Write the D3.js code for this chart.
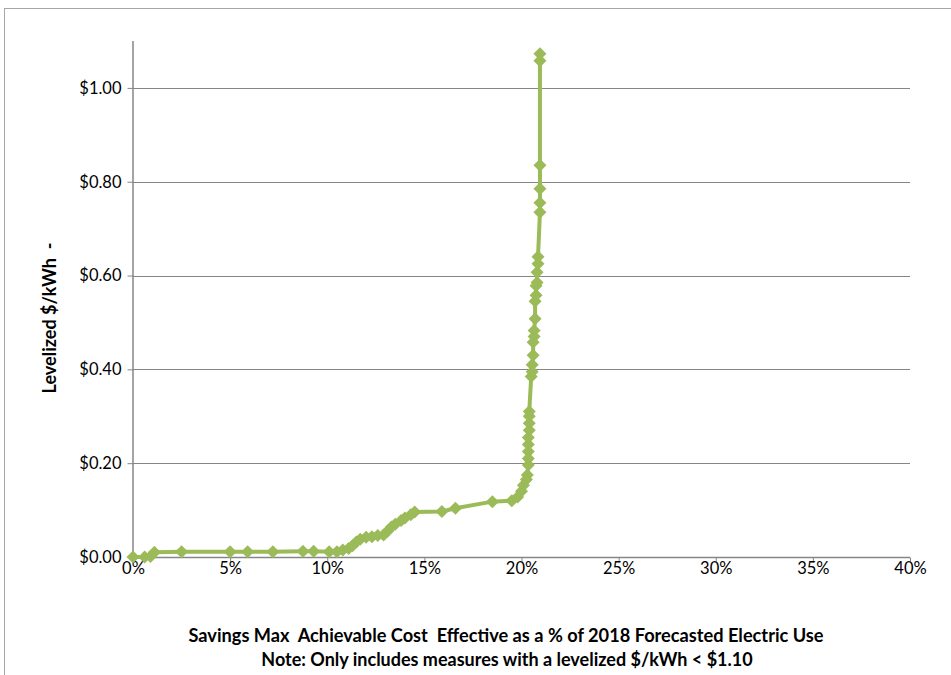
<!DOCTYPE html>
<html>
<head>
<meta charset="utf-8">
<script src="https://cdn.jsdelivr.net/npm/d3@7"></script>
<style>
  html, body { margin: 0; padding: 0; background: #ffffff; }
  svg { display: block; font-family: Lato, "Open Sans", "Liberation Sans", sans-serif; }
  text { white-space: pre; }
</style>
</head>
<body>
<svg id="chart" width="951" height="675"></svg>
<script>
// Savings (% of 2018 forecasted electric use)
const savingsPct = [0.0, 0.6, 0.9, 1.1, 2.5, 5.0, 5.9, 7.2, 8.75, 9.3, 10.1, 10.5, 10.8, 11.1, 11.3, 11.5, 11.7, 12.0, 12.3, 12.6, 12.9, 13.1, 13.3, 13.5, 13.8, 14.0, 14.3, 14.5, 15.9, 16.6, 18.5, 19.5, 19.8, 20.0, 20.1, 20.25, 20.3, 20.35, 20.35, 20.35, 20.35, 20.35, 20.4, 20.4, 20.4, 20.4, 20.5, 20.55, 20.55, 20.6, 20.6, 20.65, 20.65, 20.7, 20.7, 20.75, 20.75, 20.8, 20.8, 20.85, 20.85, 20.95, 20.95, 20.95, 20.95, 20.95, 20.95];
// Levelized $/kWh
const levelizedCost = [0.000, 0.000, 0.001, 0.010, 0.011, 0.011, 0.011, 0.011, 0.012, 0.012, 0.011, 0.011, 0.015, 0.018, 0.024, 0.032, 0.038, 0.042, 0.043, 0.046, 0.047, 0.055, 0.064, 0.070, 0.078, 0.083, 0.090, 0.096, 0.097, 0.104, 0.118, 0.120, 0.128, 0.140, 0.153, 0.165, 0.175, 0.196, 0.210, 0.225, 0.240, 0.255, 0.270, 0.285, 0.300, 0.310, 0.385, 0.395, 0.410, 0.430, 0.458, 0.470, 0.483, 0.508, 0.545, 0.558, 0.578, 0.585, 0.607, 0.625, 0.640, 0.735, 0.755, 0.785, 0.835, 1.058, 1.073];
const xTicks = [0, 5, 10, 15, 20, 25, 30, 35, 40];
const yTicks = [0, 0.2, 0.4, 0.6, 0.8, 1.0];
const xTitle = "Savings Max  Achievable Cost  Effective as a % of 2018 Forecasted Electric Use";
const xNote = "Note: Only includes measures with a levelized $/kWh < $1.10";
const yTitle = "Levelized $/kWh  -";

const svg = d3.select("#chart");
const mLeft = 133, mRight = 910, mTop = 41, mBottom = 557;
const color = "#9BBB59";
const axisColor = "#868686";

// outer chart border
svg.append("rect").attr("x", 4.5).attr("y", 8.5).attr("width", 960).attr("height", 700)
  .attr("fill", "none").attr("stroke", "#a6a6a6").attr("stroke-width", 1);

const x = d3.scaleLinear().domain([0, 40]).range([mLeft, mRight]);
const y = d3.scaleLinear().domain([0, 1.1]).range([mBottom, mTop]);

// gridlines
svg.append("g").selectAll("line").data(yTicks.filter(d => d > 0)).join("line")
  .attr("x1", mLeft).attr("x2", mRight)
  .attr("y1", d => Math.round(y(d)) + 0.5).attr("y2", d => Math.round(y(d)) + 0.5)
  .attr("stroke", axisColor).attr("stroke-width", 1);

// y axis
const yAxis = d3.axisLeft(y).tickValues(yTicks).tickSize(6).tickPadding(6)
  .tickFormat(d => "$" + d3.format(".2f")(d));
const gy = svg.append("g").attr("transform", `translate(${mLeft + 0.5},0)`).call(yAxis);
gy.select(".domain").attr("d", `M-0.5,${mTop}V${mBottom}`).attr("stroke", axisColor).attr("stroke-width", 1.5);
gy.selectAll(".tick line").attr("stroke", axisColor);
gy.selectAll(".tick text").attr("font-size", 16.5).attr("fill", "#000").attr("font-family", "Lato, 'Open Sans', sans-serif");

// x axis
const xAxis = d3.axisBottom(x).tickValues(xTicks).tickSize(5).tickPadding(4)
  .tickFormat(d => d + "%");
const gx = svg.append("g").attr("transform", `translate(0,${mBottom + 0.5})`).call(xAxis);
gx.select(".domain").attr("stroke", axisColor).attr("d", `M${mLeft},0H${mRight}`).attr("stroke-width", 1.5);
gx.selectAll(".tick line").attr("stroke", axisColor);
gx.selectAll(".tick text").attr("y", 5).attr("font-size", 16.5).attr("fill", "#000").attr("font-family", "Lato, 'Open Sans', sans-serif");

// data
const data = savingsPct.map((v, i) => ({ x: v, y: levelizedCost[i] }));
const line = d3.line().x(d => x(d.x)).y(d => y(d.y));
svg.append("path").datum(data).attr("d", line)
  .attr("fill", "none").attr("stroke", color).attr("stroke-width", 4).attr("stroke-linejoin", "round");

const r = 6.5;
svg.append("g").selectAll("path").data(data).join("path")
  .attr("transform", d => `translate(${x(d.x)},${y(d.y)})`)
  .attr("d", `M0,${-r}L${r},0L0,${r}L${-r},0Z`)
  .attr("fill", color);

// titles
svg.append("text").attr("x", 506).attr("y", 642).attr("text-anchor", "middle")
  .attr("font-size", 18.2).attr("font-weight", "bold").text(xTitle);
svg.append("text").attr("x", 507).attr("y", 666).attr("text-anchor", "middle")
  .attr("font-size", 18).attr("font-weight", "bold").text(xNote);
svg.append("text").attr("transform", "translate(56,318) rotate(-90)").attr("text-anchor", "middle")
  .attr("font-size", 18).attr("font-weight", "bold").text(yTitle);
</script>
</body>
</html>
